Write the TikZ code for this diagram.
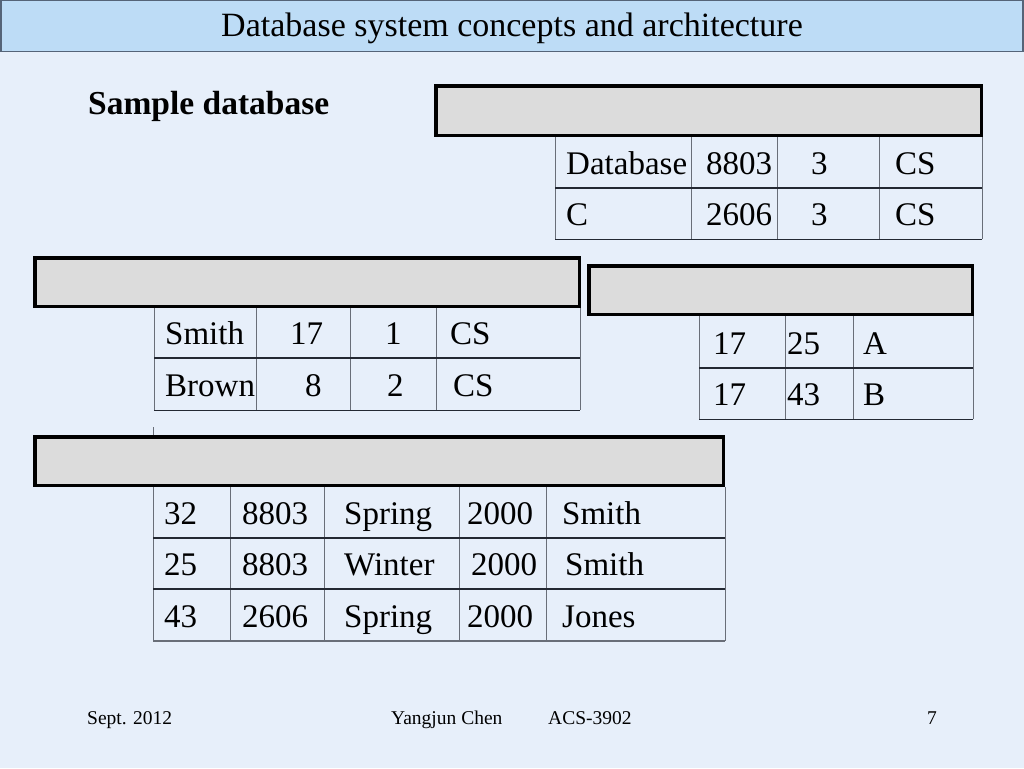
\documentclass[tikz,border=0pt]{standalone}
\usepackage{fontspec}
\setmainfont{Liberation Serif}
\newfontfamily\tnr{Liberation Serif}
\definecolor{bg}{RGB}{231,239,250}
\definecolor{titlefill}{RGB}{189,220,246}
\definecolor{titleline}{RGB}{85,100,120}
\definecolor{hdr}{RGB}{220,220,220}
\definecolor{gridv}{RGB}{105,110,120}
\definecolor{gridh}{RGB}{35,40,50}
\begin{document}
\begin{tikzpicture}[x=1pt,y=-1pt,
  cell/.style={inner sep=0pt, anchor=base west, font=\tnr\fontsize{33}{40}\selectfont},
  foot/.style={inner sep=0pt, anchor=base west, font=\tnr\fontsize{19.5}{23}\selectfont},
  hdrbox/.style={fill=hdr, draw=black, line width=3.5pt, inner sep=0pt, outer sep=0pt},
  vline/.style={draw=gridv, line width=1pt},
  hline/.style={draw=gridh, line width=1.6pt},
  bline/.style={draw=gridh, line width=1pt}]
% background
\fill[bg] (0,0) rectangle (1024,768);
\useasboundingbox (0,0) rectangle (1024,768);
% title bar
\node[fill=titlefill, draw=titleline, line width=1.2pt, minimum width=1022pt, minimum height=51pt, inner sep=0pt, outer sep=0pt] (bar) at (512,26) {};
\node[inner sep=0pt, anchor=base, font=\tnr\fontsize{34}{40}\selectfont] (title) at (512,37) {Database system concepts and architecture};
\node[inner sep=0pt, anchor=base west, font=\tnr\fontsize{33.5}{40}\selectfont\bfseries] (sample) at (88,114) {Sample database};

% ---------- table 1 (course) ----------
\foreach \x in {555,691,777,879,982} \draw[vline] (\x,137) -- (\x,239);
\draw[hline] (555,188) -- (982,188);
\draw[bline] (555,239) -- (982,239);
\node[hdrbox, minimum width=545.5pt, minimum height=49.5pt] (h1) at (708.5,110.5) {};
\node[cell] (a11) at (566,174) {Database};
\node[cell] (a12) at (706,174) {8803};
\node[cell] (a13) at (811,174) {3};
\node[cell] (a14) at (895,174) {CS};
\node[cell] (a21) at (566,225) {C};
\node[cell] (a22) at (706,225) {2606};
\node[cell] (a23) at (811,225) {3};
\node[cell] (a24) at (895,225) {CS};

% ---------- table 2 (student) ----------
\foreach \x in {154,256,350,436,580} \draw[vline] (\x,307) -- (\x,410);
\draw[hline] (154,358) -- (580,358);
\draw[bline] (154,410) -- (580,410);
\node[hdrbox, minimum width=544.5pt, minimum height=48.5pt] (h2) at (307,282) {};
\node[cell] (b11) at (165,344) {Smith};
\node[cell] (b12) at (290,344) {17};
\node[cell] (b13) at (385,344) {1};
\node[cell] (b14) at (450,344) {CS};
\node[cell] (b21) at (165,396) {Brown};
\node[cell] (b22) at (305,396) {8};
\node[cell] (b23) at (387,396) {2};
\node[cell] (b24) at (453,396) {CS};

% ---------- table 3 (grade report) ----------
\foreach \x in {699,785,853,973} \draw[vline] (\x,316) -- (\x,419);
\draw[hline] (699,368) -- (973,368);
\draw[bline] (699,419) -- (973,419);
\node[hdrbox, minimum width=383.5pt, minimum height=48.5pt] (h3) at (780.5,290) {};
\node[cell] (c11) at (713,354) {17};
\node[cell] (c12) at (787,354) {25};
\node[cell] (c13) at (863,354) {A};
\node[cell] (c21) at (713,405) {17};
\node[cell] (c22) at (787,405) {43};
\node[cell] (c23) at (863,405) {B};

% ---------- table 4 (section) ----------
\draw[vline] (153,427) -- (153,641);
\foreach \x in {230,324,459,546,725} \draw[vline] (\x,487) -- (\x,641);
\draw[hline] (153,538) -- (725,538);
\draw[hline] (153,589) -- (725,589);
\draw[draw=gridv, line width=1.6pt] (153,641) -- (725,641);
\node[hdrbox, minimum width=688.5pt, minimum height=48.5pt] (h4) at (379,461) {};
\node[cell] (d11) at (164,524) {32};
\node[cell] (d12) at (242,524) {8803};
\node[cell] (d13) at (344,524) {Spring};
\node[cell] (d14) at (467,524) {2000};
\node[cell] (d15) at (562,524) {Smith};
\node[cell] (d21) at (164,575) {25};
\node[cell] (d22) at (242,575) {8803};
\node[cell] (d23) at (344,575) {Winter};
\node[cell] (d24) at (471,575) {2000};
\node[cell] (d25) at (565,575) {Smith};
\node[cell] (d31) at (164,627) {43};
\node[cell] (d32) at (242,627) {2606};
\node[cell] (d33) at (344,627) {Spring};
\node[cell] (d34) at (467,627) {2000};
\node[cell] (d35) at (562,627) {Jones};

% ---------- footer ----------
\node[foot] (f1) at (87,724) {Sept. 2012};
\node[foot] (f2) at (391,724) {Yangjun Chen};
\node[foot] (f3) at (548,724) {ACS-3902};
\node[foot] (f4) at (927,724) {7};
\end{tikzpicture}
\end{document}
